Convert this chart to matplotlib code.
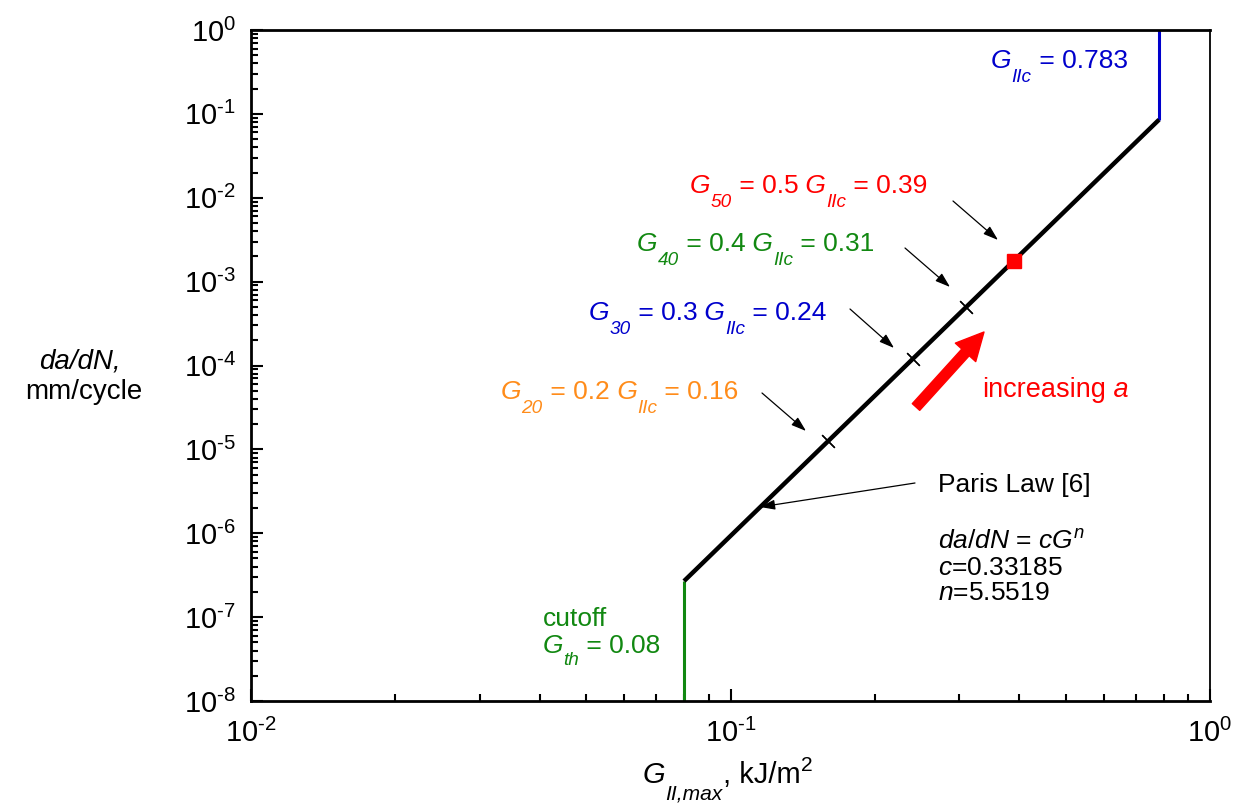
import numpy as np
import matplotlib
matplotlib.use('Agg')
import matplotlib.pyplot as plt

plt.rcParams['font.family'] = ['Liberation Sans', 'DejaVu Sans']
plt.rcParams['mathtext.fontset'] = 'custom'
plt.rcParams['mathtext.rm'] = 'Liberation Sans'
plt.rcParams['mathtext.it'] = 'Liberation Sans:italic'
plt.rcParams['mathtext.bf'] = 'Liberation Sans:bold'

### data
G_paris = [0.08, 0.783]              # Paris law segment, kJ/m^2
dadn_paris = [2.69e-7, 8.53e-2]      # mm/cycle
G_th = 0.08                          # cutoff
dadn_cut = [1e-8, 2.69e-7]
G_IIc = 0.783
dadn_crit = [8.53e-2, 1.0]
G_marks = [0.16, 0.24, 0.31, 0.39]   # G20, G30, G40, G50
dadn_marks = [1.27e-5, 1.20e-4, 4.98e-4, 1.78e-3]
G_50 = 0.39
dadn_50 = 1.78e-3

W, H = 1244, 809
fig = plt.figure(figsize=(W / 100, H / 100), dpi=100)
ax = fig.add_axes([251 / W, 1 - 701 / H, (1210 - 251) / W, (701 - 30) / H])
renderer = fig.canvas.get_renderer()

def px(x, y):
    # figure pixel position measured from the top-left corner
    return (x, H - y)

def rich(x, y, pieces, color='black', size=19):
    # text pieces laid out left to right: (string, italic, scale, drop in px)
    for s, it, sc, dy in pieces:
        t = fig.text(x / W, 1 - (y + dy) / H, s, fontsize=size * sc,
                     style='italic' if it else 'normal', color=color,
                     ha='left', va='baseline')
        x += t.get_window_extent(renderer).width

ax.plot([G_th, G_th], dadn_cut, color='#118811', lw=2.2, solid_capstyle='butt')
ax.plot([G_IIc, G_IIc], dadn_crit, color='#0000cc', lw=2.2, solid_capstyle='butt')
ax.plot(G_paris, dadn_paris, color='black', lw=3.2, solid_capstyle='butt')
ax.plot(G_marks, dadn_marks, ls='none', marker=(2, 2, 45), ms=13, mew=0.9, color='black')
ax.plot([G_50], [dadn_50], ls='none', marker='s', ms=10, color='red')

ax.set_xscale('log')
ax.set_yscale('log')
ax.set_xlim(1e-2, 1)
ax.set_ylim(1e-8, 1)
fmt = matplotlib.ticker.FuncFormatter(lambda v, p: r'10$^{\text{%d}}$' % round(np.log10(v)))
ax.xaxis.set_major_locator(matplotlib.ticker.LogLocator(base=10, numticks=10))
ax.yaxis.set_major_locator(matplotlib.ticker.LogLocator(base=10, numticks=20))
ax.yaxis.set_minor_locator(matplotlib.ticker.LogLocator(base=10, subs=np.arange(2, 10), numticks=20))
ax.xaxis.set_major_formatter(fmt)
ax.yaxis.set_major_formatter(fmt)
ax.xaxis.set_minor_formatter(matplotlib.ticker.NullFormatter())
ax.yaxis.set_minor_formatter(matplotlib.ticker.NullFormatter())
ax.tick_params(which='both', direction='in', top=False, right=False, width=1.5, labelsize=21)
ax.tick_params(which='major', length=8.5)
ax.tick_params(which='minor', length=5)
ax.tick_params(axis='y', pad=11)
ax.tick_params(axis='x', pad=13)
for s in ['left', 'bottom', 'top']:
    ax.spines[s].set_linewidth(2)
ax.spines['right'].set_linewidth(1.3)

### axis labels
fig.text(80 / W, 1 - 369 / H, 'da/dN,', style='italic', fontsize=20, ha='center', va='baseline')
fig.text(84 / W, 1 - 399 / H, 'mm/cycle', fontsize=20, ha='center', va='baseline')
rich(643, 783, [('G', True, 1, 0), ('II,max', True, 0.72, 17), (', kJ/m', False, 1, 0),
                ('2', False, 0.72, -12)], size=21)

### labels with arrows
labels = [
    ('IIc', '', ' = 0.783', '#0000cc', (991, 68), None, None),
    ('50', ' = 0.5', ' = 0.39', 'red', (690, 193), (953, 201), (998, 240)),
    ('40', ' = 0.4', ' = 0.31', '#118811', (637, 251), (905, 248), (950, 287)),
    ('30', ' = 0.3', ' = 0.24', '#0000cc', (589, 320), (850, 309), (894, 348)),
    ('20', ' = 0.2', ' = 0.16', '#ff8c1a', (501, 399), (762, 393), (806, 431)),
]
for sub, mid, val, col, pos, start, end in labels:
    if mid:
        pieces = [('G', True, 1, 0), (sub, True, 0.72, 14), (mid, False, 1, 0),
                  (' G', True, 1, 0), ('IIc', True, 0.72, 14), (val, False, 1, 0)]
    else:
        pieces = [('G', True, 1, 0), (sub, True, 0.72, 14), (val, False, 1, 0)]
    rich(pos[0], pos[1], pieces, color=col, size=19)
    if start is not None:
        ax.annotate('', xy=px(*end), xycoords='figure pixels', xytext=px(*start),
                    textcoords='figure pixels',
                    arrowprops=dict(arrowstyle='-|>,head_length=0.9,head_width=0.3',
                                    color='black', lw=0.9, shrinkA=0, shrinkB=0))

### increasing a
ax.annotate('', xy=px(984, 332), xycoords='figure pixels', xytext=px(916, 407),
            textcoords='figure pixels',
            arrowprops=dict(arrowstyle='simple,head_length=1.1,head_width=1.1,tail_width=0.4',
                            color='red', mutation_scale=18, shrinkA=0, shrinkB=0))
rich(982, 397, [('increasing', False, 1, 0), (' a', True, 1, 0)], color='red', size=19.5)

### Paris law
ax.annotate('', xy=px(760, 507), xycoords='figure pixels', xytext=px(915, 483),
            textcoords='figure pixels',
            arrowprops=dict(arrowstyle='-|>,head_length=0.9,head_width=0.3',
                            color='black', lw=0.9, shrinkA=0, shrinkB=0))
fig.text(938 / W, 1 - 492 / H, 'Paris Law [6]', fontsize=19, va='baseline')
fig.text(938 / W, 1 - 549 / H, r'$da/dN$ = $cG^n$', fontsize=19, va='baseline')
fig.text(938 / W, 1 - 575 / H, r'$c$=0.33185', fontsize=19, va='baseline')
fig.text(938 / W, 1 - 600 / H, r'$n$=5.5519', fontsize=19, va='baseline')

### cutoff
rich(543, 626, [('cutoff', False, 1, 0)], color='#118811', size=19)
rich(543, 653, [('G', True, 1, 0), ('th', True, 0.72, 12), (' = 0.08', False, 1, 0)],
     color='#118811', size=19)

fig.savefig('out.png', dpi=100)
